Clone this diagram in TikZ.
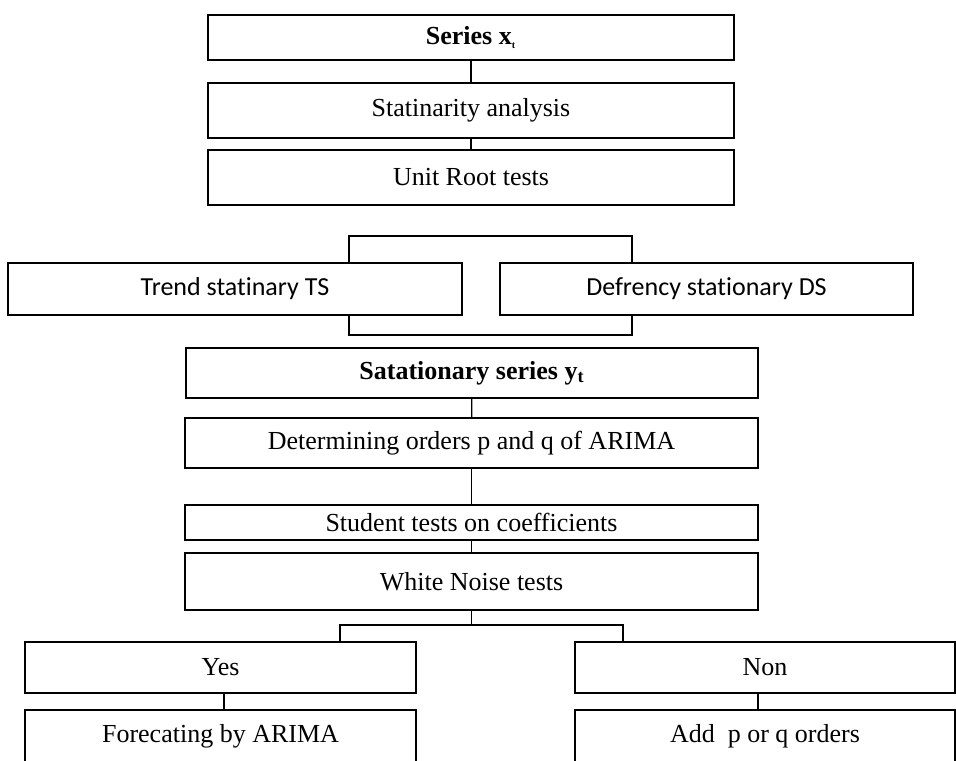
\documentclass[tikz,border=0pt]{standalone}
\usepackage{fontspec}
\setmainfont{Liberation Serif}
\newfontfamily\calfont[Ligatures=NoCommon]{Carlito}
\usetikzlibrary{positioning}

\begin{document}
\begin{tikzpicture}[x=0.5pt,y=-0.5pt,
  box/.style={draw, line width=0.8pt, inner sep=0pt, align=center,
    font=\fontsize{13}{15}\selectfont},
  sbox/.style={box, font=\calfont\fontsize{13}{15}\selectfont},
  link/.style={line width=0.6pt}]

  \useasboundingbox (0,0) rectangle (956,760);

  % upper chain
  \node[box, minimum width=263pt, minimum height=22.5pt] (series) at (471,37.5)
    {\textbf{Series x\textsubscript{\tiny t}}};
  \node[box, minimum width=263pt, minimum height=27.5pt] (stat) at (471,110.5)
    {Statinarity analysis};
  \node[box, minimum width=263pt, minimum height=27.5pt] (unit) at (471,177.5)
    {Unit Root tests};

  \node[sbox, minimum width=227pt, minimum height=26pt] (ts) at (235,289)
    {Trend statinary TS};
  \node[sbox, minimum width=206.5pt, minimum height=26pt] (ds) at (706.5,289)
    {Defrency stationary DS};

  \coordinate (tl) at (349,236);
  \coordinate (tr) at (632,236);
  \coordinate (bl) at (349,335);
  \coordinate (br) at (632,335);

  % lower chain
  \node[box, minimum width=286pt, minimum height=25pt] (sat) at (472,373)
    {\textbf{Satationary series y\textsubscript{t}}};
  \node[box, minimum width=286.5pt, minimum height=25pt] (det) at (471.5,443)
    {Determining orders p and q of ARIMA};
  \node[box, minimum width=286.5pt, minimum height=17.5pt] (stud) at (471.5,522.5)
    {Student tests on coefficients};
  \node[box, minimum width=286.5pt, minimum height=28.5pt] (white) at (471.5,581.5)
    {White Noise tests};

  \coordinate (fl) at (340,625);
  \coordinate (fr) at (623,625);
  \coordinate (yl) at (224,700);
  \coordinate (nl) at (758,700);

  \node[box, minimum width=195.5pt, minimum height=25.5pt] (yes) at (220.5,667.5)
    {Yes};
  \node[box, minimum width=190pt, minimum height=25.5pt] (non) at (765,667.5)
    {Non};
  \node[box, minimum width=195.5pt, minimum height=26pt] (fore) at (220.5,736)
    {Forecating by ARIMA};
  \node[box, minimum width=190pt, minimum height=26pt] (add) at (765,736)
    {Add \ p or q orders};

  % connectors
  \draw[link] (series) -- (stat);
  \draw[link] (stat) -- (unit);
  \draw[link] (ts.north -| tl) -- (tl) -- (tr) -- (ds.north -| tr);
  \draw[link] (ts.south -| bl) -- (bl) -- (br) -- (ds.south -| br);
  \draw[link] (sat) -- (det);
  \draw[link] (det) -- (stud);
  \draw[link] (stud) -- (white);
  \draw[link] (white.south) -- (white.south |- fl);
  \draw[link] (yes.north -| fl) -- (fl) -- (fr) -- (non.north -| fr);
  \draw[link] (yes.south -| yl) -- (fore.north -| yl);
  \draw[link] (non.south -| nl) -- (add.north -| nl);

\end{tikzpicture}
\end{document}
